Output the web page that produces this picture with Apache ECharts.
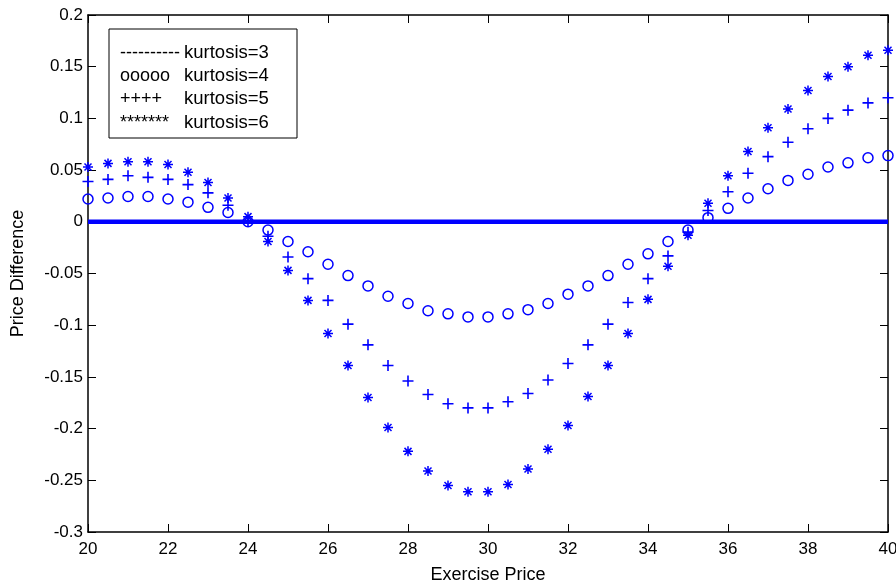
<!DOCTYPE html>
<html>
<head>
<meta charset="utf-8">
<script src="https://cdn.jsdelivr.net/npm/echarts@6/dist/echarts.min.js"></script>
<style>
  html, body { margin: 0; padding: 0; background: #fff; }
  #chart { width: 896px; height: 585px; }
</style>
</head>
<body>
<div id="chart"></div>
<script>
// exercise prices (x)
const strikes = [20, 20.5, 21, 21.5, 22, 22.5, 23, 23.5, 24, 24.5, 25, 25.5, 26, 26.5, 27, 27.5,
  28, 28.5, 29, 29.5, 30, 30.5, 31, 31.5, 32, 32.5, 33, 33.5, 34, 34.5, 35, 35.5, 36, 36.5,
  37, 37.5, 38, 38.5, 39, 39.5, 40];

// kurtosis=3 is the reference, difference is zero
const kurt3 = [0, 0, 0, 0, 0, 0, 0, 0, 0, 0, 0, 0, 0, 0, 0, 0, 0, 0, 0, 0, 0, 0, 0, 0, 0, 0,
  0, 0, 0, 0, 0, 0, 0, 0, 0, 0, 0, 0, 0, 0, 0];

const kurt4 = [0.022, 0.023, 0.0245, 0.0245, 0.022, 0.019, 0.014, 0.009, 0.000, -0.008,
  -0.019, -0.029, -0.041, -0.052, -0.062, -0.072, -0.079, -0.086, -0.089, -0.092, -0.092,
  -0.089, -0.085, -0.079, -0.070, -0.062, -0.052, -0.041, -0.031, -0.019, -0.008, 0.004,
  0.013, 0.023, 0.032, 0.040, 0.046, 0.053, 0.057, 0.062, 0.064];

const kurt5 = [0.039, 0.041, 0.0445, 0.043, 0.041, 0.036, 0.028, 0.016, 0.001, -0.014,
  -0.034, -0.055, -0.076, -0.099, -0.119, -0.139, -0.154, -0.167, -0.176, -0.180, -0.180,
  -0.174, -0.166, -0.153, -0.137, -0.119, -0.099, -0.078, -0.055, -0.033, -0.010, 0.011,
  0.029, 0.047, 0.063, 0.077, 0.090, 0.100, 0.108, 0.115, 0.120];

const kurt6 = [0.053, 0.0565, 0.058, 0.058, 0.0555, 0.048, 0.038, 0.023, 0.005, -0.019,
  -0.047, -0.076, -0.108, -0.139, -0.170, -0.199, -0.222, -0.241, -0.255, -0.261, -0.261,
  -0.254, -0.239, -0.220, -0.197, -0.169, -0.139, -0.108, -0.075, -0.043, -0.013, 0.018,
  0.0445, 0.068, 0.091, 0.109, 0.127, 0.1405, 0.150, 0.161, 0.166];

// legend lines as typed in the original figure
const legendMarks = ['----------', 'ooooo', '++++', '*******'];
const legendNames = ['kurtosis=3', 'kurtosis=4', 'kurtosis=5', 'kurtosis=6'];

const BLUE = '#0000ff';
const FONT = '"Liberation Sans", Arial, sans-serif';

const pairs = (ys) => strikes.map((x, i) => [x, ys[i]]);

const chart = echarts.init(document.getElementById('chart'));

// axis styling shared by the bottom/left and the mirrored top/right axes
const axisLine = { show: true, onZero: false, lineStyle: { color: '#000', width: 1.5 } };
const axisTick = { show: true, inside: true, length: 8, lineStyle: { color: '#000', width: 1 } };
const fmtY = (v) => String(parseFloat(v.toFixed(2)));

const legendGraphics = [
  {
    type: 'rect',
    shape: { x: 109, y: 29, width: 188, height: 109 },
    style: { fill: '#fff', stroke: '#000', lineWidth: 1 },
    z: 100
  }
];
legendMarks.forEach((m, i) => {
  const y = 53 + i * 23.2;
  legendGraphics.push({
    type: 'text', x: 120, y: y, z: 101,
    style: { text: m, font: '18px ' + FONT, fill: '#000', verticalAlign: 'middle' }
  });
  legendGraphics.push({
    type: 'text', x: 184, y: y, z: 101,
    style: { text: legendNames[i], font: '18.5px ' + FONT, fill: '#000', verticalAlign: 'middle' }
  });
});

const option = {
  animation: false,
  backgroundColor: '#fff',
  grid: { left: 88, right: 8, top: 15, bottom: 53, containLabel: false, outerBoundsMode: 'none' },
  xAxis: [
    {
      type: 'value', min: 20, max: 40, interval: 2,
      name: 'Exercise Price', nameLocation: 'middle', nameGap: 34,
      nameTextStyle: { fontFamily: FONT, fontSize: 18, color: '#000' },
      axisLine: axisLine, axisTick: axisTick,
      axisLabel: { fontFamily: FONT, fontSize: 17, color: '#000', margin: 9 },
      splitLine: { show: false }
    },
    {
      type: 'value', min: 20, max: 40, interval: 2, position: 'top',
      axisLine: axisLine, axisTick: axisTick,
      axisLabel: { show: false }, splitLine: { show: false }
    }
  ],
  yAxis: [
    {
      type: 'value', min: -0.3, max: 0.2, interval: 0.05,
      name: 'Price Difference', nameLocation: 'middle', nameGap: 61, nameRotate: 90,
      nameTextStyle: { fontFamily: FONT, fontSize: 18, color: '#000' },
      axisLine: axisLine, axisTick: axisTick,
      axisLabel: { fontFamily: FONT, fontSize: 17, color: '#000', margin: 5, formatter: fmtY },
      splitLine: { show: false }
    },
    {
      type: 'value', min: -0.3, max: 0.2, interval: 0.05, position: 'right',
      axisLine: axisLine, axisTick: axisTick,
      axisLabel: { show: false }, splitLine: { show: false }
    }
  ],
  series: [
    {
      name: 'kurtosis=3', type: 'line', data: pairs(kurt3),
      showSymbol: false, symbol: 'none',
      lineStyle: { color: BLUE, width: 4.5 }, z: 2
    },
    {
      name: 'kurtosis=4', type: 'scatter', data: pairs(kurt4),
      symbol: 'circle', symbolSize: 10,
      itemStyle: { color: 'rgba(0,0,0,0)', borderColor: BLUE, borderWidth: 1.5, opacity: 1 },
      z: 3
    },
    {
      name: 'kurtosis=5', type: 'scatter', data: pairs(kurt5),
      symbol: 'path://M0,5L10,5M5,0L5,10', symbolSize: 11,
      itemStyle: { color: 'rgba(0,0,0,0)', borderColor: BLUE, borderWidth: 1.6, opacity: 1 },
      z: 3
    },
    {
      name: 'kurtosis=6', type: 'scatter', data: pairs(kurt6),
      symbol: 'path://M5,0L5,10M0,5L10,5M1.5,1.5L8.5,8.5M8.5,1.5L1.5,8.5', symbolSize: 10,
      itemStyle: { color: 'rgba(0,0,0,0)', borderColor: BLUE, borderWidth: 1.5, opacity: 1 },
      z: 3
    }
  ],
  graphic: legendGraphics
};

chart.setOption(option);
</script>
</body>
</html>
